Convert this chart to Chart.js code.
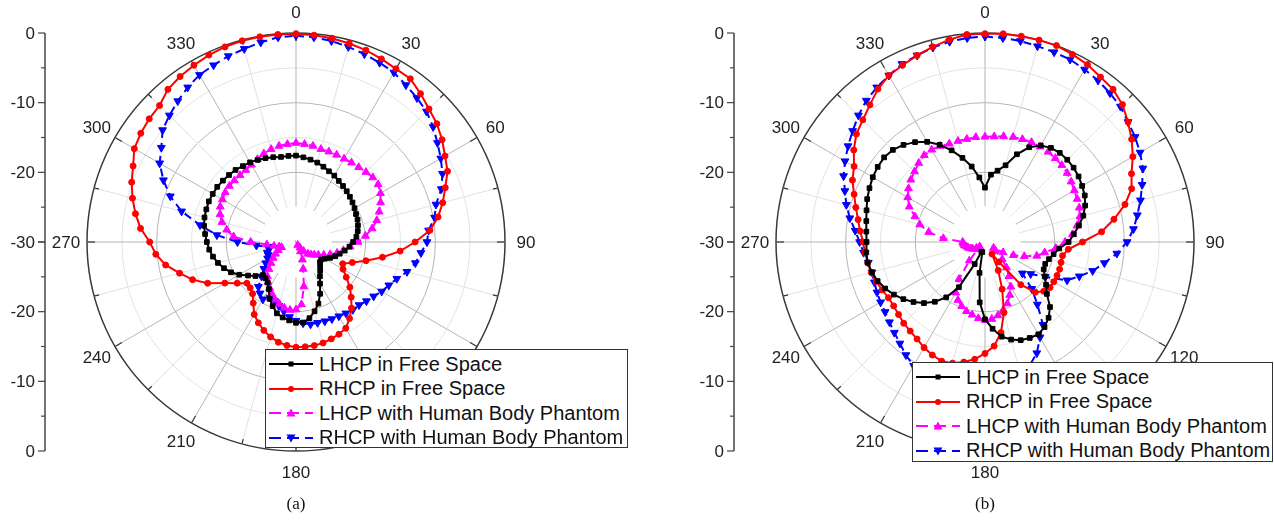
<!DOCTYPE html>
<html>
<head>
<meta charset="utf-8">
<script src="https://cdn.jsdelivr.net/npm/chart.js@4.4.1/dist/chart.umd.min.js"></script>
<style>
  html, body { margin: 0; padding: 0; background: #fff; }
  body { width: 1274px; height: 521px; position: relative; overflow: hidden;
         font-family: "Liberation Sans", Arial, sans-serif; }
  canvas { position: absolute; top: 0; }
  #chartA { left: 0; }
  #chartB { left: 640px; }
  .legend { position: absolute; background: #fff; border: 1.5px solid #333; box-sizing: border-box;
            padding: 2px 0 0 2px; }
  .legend .row { display: flex; align-items: center; height: 24.5px; font-size: 20px; color: #111;
                 white-space: nowrap; }
  .legend svg { margin-right: 5px; flex: none; }
  .cap { position: absolute; top: 494px; font-family: "Liberation Serif", "Times New Roman", serif;
         font-size: 17px; color: #111; transform: translateX(-50%); }
</style>
</head>
<body>
<canvas id="chartA" width="640" height="521"></canvas>
<canvas id="chartB" width="634" height="521"></canvas>
<div class="legend" id="legA" style="left:265px; top:349px; width:363px; height:99px;"></div>
<div class="legend" id="legB" style="left:912px; top:362px; width:361px; height:100px;"></div>
<div class="cap" style="left:296px;">(a)</div>
<div class="cap" style="left:985px;">(b)</div>
<script>
// ---------- categories (angle in degrees) ----------
const angleLabels = [0,5,10,15,20,25,30,35,40,45,50,55,60,65,70,75,80,85,90,95,100,105,110,115,
  120,125,130,135,140,145,150,155,160,165,170,175,180,185,190,195,200,205,210,215,220,225,230,235,
  240,245,250,255,260,265,270,275,280,285,290,295,300,305,310,315,320,325,330,335,340,345,350,355];

// ---------- tick labels ----------
const angleTickLabels = ['0','30','60','90','120','150','180','210','240','270','300','330'];
const axisTickLabels = ['0','-10','-20','-30','-20','-10','0'];

// ---------- series names ----------
const seriesNames = ['LHCP in Free Space', 'RHCP in Free Space',
                     'LHCP with Human Body Phantom', 'RHCP with Human Body Phantom'];

// ---------- (a) values, dB ----------
const lhcpFreeA = [-17.6,-17.8,-18.0,-18.2,-18.5,-18.8, -19.0,-19.3,-19.5,-19.7,-19.9,-20.1,
  -20.3,-20.5,-20.6,-20.8,-21.0,-21.3, -21.8,-22.3,-22.9,-23.5,-24.0,-24.6,
  -25.2,-25.6,-25.5,-25.1,-24.6,-24.0, -23.1,-21.8,-20.6,-19.7,-18.9,-18.4,
  -18.4,-18.7,-19.0,-19.4,-20.2,-21.0, -22.2,-22.9,-23.2,-23.3,-22.4,-21.6,
  -20.6,-19.7,-19.0,-18.4,-17.9,-17.5, -17.2,-16.9,-16.6,-16.4,-16.3,-16.2,
  -16.2,-16.2,-16.3,-16.4,-16.5,-16.7, -16.8,-17.0,-17.2,-17.4,-17.6,-17.6];
const rhcpFreeA = [-0.1,-0.2,-0.3,-0.5,-0.7,-1.0, -1.3,-1.4,-2.2,-3.0,-3.6,-4.4,
  -5.3,-6.0,-7.2,-8.2,-9.3,-10.7, -12.9,-15.0,-17.4,-19.6,-21.4,-22.6,
  -22.2,-21.2,-19.9,-18.8,-17.6,-16.6, -15.7,-15.4,-15.2,-15.0,-14.9,-14.9,
  -14.9,-15.1,-15.4,-15.9,-16.5,-17.2, -18.0,-19.3,-20.3,-20.7,-20.8,-19.7,
  -18.2,-16.0,-14.2,-12.7,-11.0,-9.8, -9.0,-7.6,-6.6,-5.7,-4.9,-4.2,
  -3.2,-2.8,-2.5,-2.3,-1.4,-1.0, -0.7,-0.4,-0.2,-0.1,-0.1,-0.1];
const lhcpBodyA = [-15.8,-15.9,-16.0,-16.2,-16.2,-16.2, -16.2,-16.1,-16.0,-15.8,-15.6,-15.6,
  -16.0,-16.6,-17.3,-18.0,-18.9,-20.0, -21.1,-22.2,-23.1,-23.9,-24.8,-25.6,
  -26.3,-26.8,-27.2,-27.6,-28.3,-29.0, -29.5,-28.5,-27.3,-26.0,-23.5,-21.0,
  -20.3,-20.2,-20.4,-20.8,-21.2,-21.8, -22.4,-23.0,-23.6,-24.5,-25.3,-26.0,
  -26.6,-27.2,-27.8,-27.5,-26.8,-25.8, -23.5,-21.0,-19.9,-19.0,-18.4,-18.0,
  -17.8,-17.6,-17.5,-17.5,-17.5,-17.4, -17.2,-16.9,-16.5,-16.2,-16.0,-15.9];
const rhcpBodyA = [-0.4,-0.5,-0.7,-1.0,-1.3,-1.6, -1.9,-2.5,-3.0,-3.5,-4.3,-5.2,
  -6.0,-6.8,-7.8,-9.2,-9.8,-10.9, -11.2,-12.0,-12.6,-13.5,-14.6,-15.3,
  -15.8,-16.4,-16.8,-17.2,-17.3,-17.5, -17.7,-17.8,-17.9,-18.0,-18.0,-18.3,
  -18.7,-19.2,-19.9,-20.5,-21.0,-21.2, -20.5,-21.0,-21.6,-23.0,-24.0,-24.7,
  -25.3,-25.6,-25.6,-26.0,-26.0,-24.3, -21.6,-18.6,-16.0,-13.0,-10.8,-9.0,
  -7.4,-6.4,-5.0,-4.3,-3.6,-2.9, -2.3,-2.0,-1.6,-1.3,-0.9,-0.5];

// ---------- (b) values, dB ----------
const lhcpFreeB = [-22.2,-20.3,-19.6,-18.6,-16.6,-15.0, -14.0,-13.5,-13.3,-13.3,-13.4,-13.6,
  -13.9,-14.2,-14.7,-15.4,-16.3,-17.2, -18.0,-19.3,-20.0,-20.5,-20.8,-20.7,
  -20.1,-19.3,-18.4,-16.8,-15.8,-15.1, -14.7,-14.8,-15.0,-15.5,-16.2,-17.5,
  -18.9,-21.3,-25.5,-28.5,-28.5,-26.5, -22.5,-20.3,-18.8,-17.6,-16.6,-15.7,
  -14.9,-14.2,-13.6,-13.2,-12.9,-12.9, -13.0,-12.9,-12.7,-12.4,-12.0,-11.7,
  -11.4,-11.2,-11.1,-11.3,-11.8,-12.5, -13.4,-14.6,-16.0,-17.5,-19.0,-20.7];
const rhcpFreeB = [-0.1,0,0,0,0,-0.3, -0.6,-1.1,-1.4,-2.1,-3.2,-4.3,
  -5.5,-6.8,-7.6,-9.2,-11.2,-13.2, -16.0,-18.0,-18.7,-18.7,-18.6,-18.6,
  -18.6,-18.6,-19.0,-19.8,-22.0,-26.5, -28.0,-25.5,-22.8,-19.5,-16.8,-15.0,
  -14.0,-13.1,-12.5,-12.0,-11.8,-12.1, -12.5,-13.0,-13.3,-13.5,-13.8,-14.0,
  -14.0,-13.7,-13.4,-13.1,-12.9,-12.7, -12.5,-12.0,-11.5,-10.8,-10.0,-9.0,
  -8.3,-7.0,-5.9,-5.2,-4.3,-3.2, -2.4,-2.0,-1.5,-1.0,-0.5,-0.1];
const lhcpBodyB = [-14.9,-14.8,-14.6,-14.4,-14.3,-14.2, -14.2,-14.2,-14.3,-14.4,-14.6,-14.9,
  -15.2,-15.4,-15.6,-15.9,-16.6,-17.4, -18.5,-19.8,-21.3,-22.3,-24.0,-25.5,
  -27.0,-28.5,-28.0,-26.5,-25.2,-24.0, -22.6,-21.6,-20.6,-19.9,-19.3,-18.9,
  -18.8,-19.0,-19.4,-19.7,-20.2,-20.8, -21.6,-23.5,-26.5,-28.5,-29.0,-28.5,
  -28.0,-27.8,-27.5,-27.3,-27.0,-26.9, -26.8,-24.0,-21.8,-20.3,-19.3,-18.0,
  -17.2,-16.6,-16.1,-15.7,-15.2,-14.8, -14.7,-14.8,-15.0,-15.0,-15.0,-14.9];
const rhcpBodyB = [-0.5,-0.6,-0.7,-0.9,-1.0,-1.1, -1.4,-1.7,-2.1,-2.5,-3.2,-3.7,
  -4.3,-5.0,-6.0,-6.9,-7.8,-8.6, -9.6,-11.0,-12.6,-14.0,-15.6,-17.0,
  -20.0,-22.0,-23.0,-20.5,-18.3,-15.5, -14.2,-12.4,-11.2,-10.3,-9.7,-9.3,
  -9.1,-9.0,-9.0,-9.1,-9.2,-9.3, -9.5,-10.2,-11.0,-11.6,-12.1,-12.5,
  -12.7,-12.9,-13.1,-13.2,-13.0,-12.5, -12.0,-11.3,-10.3,-9.4,-8.6,-7.6,
  -6.8,-6.0,-5.2,-4.3,-3.5,-2.9, -2.4,-1.8,-1.5,-1.1,-0.8,-0.6];

// ---------- styles ----------
const seriesStyles = [
  { color: '#000000', dash: [], pointStyle: 'rect', radius: 3.3, rotation: 0 },
  { color: '#ff0000', dash: [], pointStyle: 'circle', radius: 3, rotation: 0 },
  { color: '#ff00ff', dash: [8, 5], pointStyle: 'triangle', radius: 4.5, rotation: 0 },
  { color: '#0000ff', dash: [8, 5], pointStyle: 'triangle', radius: 4.5, rotation: 180 }
];
const FONT = '"Liberation Sans", Arial, sans-serif';

function makeDatasets(seriesList) {
  return seriesList.map((data, i) => {
    const st = seriesStyles[i];
    return {
      label: seriesNames[i], data: data,
      borderColor: st.color, backgroundColor: st.color,
      pointBackgroundColor: st.color, pointBorderColor: st.color,
      borderWidth: 2, borderDash: st.dash, fill: false, tension: 0,
      pointStyle: st.pointStyle, pointRadius: st.radius, pointRotation: st.rotation,
      pointBorderWidth: 1, pointHoverRadius: st.radius
    };
  });
}

const decorPlugin = {
  id: 'decor',
  beforeDatasetsDraw(chart) {
    const s = chart.scales.r, ctx = chart.ctx;
    ctx.save();
    // blank centre disc (grid starts at the -25 dB ring)
    ctx.fillStyle = '#ffffff';
    ctx.beginPath();
    ctx.arc(s.xCenter, s.yCenter, s.getDistanceFromCenterForValue(-25) + 0.8, 0, Math.PI * 2);
    ctx.fill();
    // ticks on outer ring
    const rOut = s.getDistanceFromCenterForValue(s.max);
    ctx.strokeStyle = '#333';
    ctx.lineWidth = 1.2;
    angleLabels.forEach((a, i) => {
      if (a % 15 !== 0) return;
      const len = (a % 30 === 0) ? 8 : 5;
      const p1 = s.getPointPosition(i, rOut), p2 = s.getPointPosition(i, rOut - len);
      ctx.beginPath(); ctx.moveTo(p1.x, p1.y); ctx.lineTo(p2.x, p2.y); ctx.stroke();
    });
    ctx.restore();
  },
  afterDraw(chart) {
    const s = chart.scales.r, ctx = chart.ctx;
    const rOut = s.getDistanceFromCenterForValue(s.max);
    ctx.save();
    ctx.fillStyle = '#222';
    ctx.font = '17px ' + FONT;
    ctx.textAlign = 'center';
    ctx.textBaseline = 'middle';
    angleTickLabels.forEach(lbl => {
      const idx = angleLabels.indexOf(Number(lbl));
      const p = s.getPointPosition(idx, rOut + 21);
      ctx.fillText(lbl, p.x, p.y + 1);
    });
    // left radial axis
    const ax = s.xCenter - 251;
    ctx.strokeStyle = '#444';
    ctx.lineWidth = 1.5;
    ctx.beginPath(); ctx.moveTo(ax, s.yCenter - rOut); ctx.lineTo(ax, s.yCenter + rOut); ctx.stroke();
    ctx.lineWidth = 1.2;
    s.ticks.forEach(t => {
      const d = s.getDistanceFromCenterForValue(t.value);
      const len = (t.value % 10 === 0) ? 7 : 4;
      [-1, 1].forEach(sg => {
        ctx.beginPath(); ctx.moveTo(ax - len, s.yCenter + sg * d); ctx.lineTo(ax, s.yCenter + sg * d); ctx.stroke();
      });
    });
    ctx.textAlign = 'right';
    const mid = (axisTickLabels.length - 1) / 2;
    axisTickLabels.forEach((lbl, k) => {
      const sign = k < mid ? -1 : (k > mid ? 1 : 0);
      const y = s.yCenter + sign * s.getDistanceFromCenterForValue(Number(lbl));
      ctx.fillText(lbl, ax - 10, y + 1);
    });
    ctx.restore();
  }
};

function makeChart(id, seriesList, padding) {
  return new Chart(document.getElementById(id), {
    type: 'radar',
    data: { labels: angleLabels.map(String), datasets: makeDatasets(seriesList) },
    options: {
      responsive: false, animation: false, events: [],
      layout: { padding: padding },
      plugins: { legend: { display: false }, tooltip: { enabled: false } },
      scales: {
        r: {
          min: -30, max: 0, startAngle: 0,
          ticks: { display: false, stepSize: 5 },
          pointLabels: { display: false },
          grid: {
            circular: true,
            color: c => c.tick.value === 0 ? '#3a3a3a' : (c.tick.value % 10 === 0 ? '#b5b5b5' : '#e3e3e3'),
            lineWidth: c => c.tick.value === 0 ? 1.5 : 1
          },
          angleLines: {
            display: true,
            color: c => (angleLabels[c.index] % 30 === 0) ? '#b5b5b5' : '#e0e0e0',
            lineWidth: c => (angleLabels[c.index] % 15 === 0) ? 1 : 0
          }
        }
      }
    },
    plugins: [decorPlugin]
  });
}

makeChart('chartA', [lhcpFreeA, rhcpFreeA, lhcpBodyA, rhcpBodyA], { left: 87, top: 33, right: 135, bottom: 70 });
makeChart('chartB', [lhcpFreeB, rhcpFreeB, lhcpBodyB, rhcpBodyB], { left: 136, top: 33, right: 80, bottom: 70 });

// ---------- legends ----------
function legendSample(st) {
  const w = 46, h = 20, cy = 10, cx = 23;
  let marker = '';
  if (st.pointStyle === 'rect') {
    marker = `<rect x="${cx - 2.5}" y="${cy - 2.5}" width="5" height="5" fill="${st.color}"/>`;
  } else if (st.pointStyle === 'circle') {
    marker = `<circle cx="${cx}" cy="${cy}" r="3" fill="${st.color}"/>`;
  } else {
    const up = st.rotation === 0;
    const pts = up ? `${cx - 4.5},${cy + 3.5} ${cx + 4.5},${cy + 3.5} ${cx},${cy - 4.5}`
                   : `${cx - 4.5},${cy - 3.5} ${cx + 4.5},${cy - 3.5} ${cx},${cy + 4.5}`;
    marker = `<polygon points="${pts}" fill="${st.color}"/>`;
  }
  const dash = st.dash.length ? `stroke-dasharray="12,6"` : '';
  return `<svg width="${w}" height="${h}"><line x1="1" y1="${cy}" x2="${w - 1}" y2="${cy}" stroke="${st.color}" stroke-width="2" ${dash}/>${marker}</svg>`;
}
['legA', 'legB'].forEach(id => {
  document.getElementById(id).innerHTML = seriesNames.map((n, i) =>
    `<div class="row">${legendSample(seriesStyles[i])}<span>${n}</span></div>`).join('');
});
</script>
</body>
</html>
